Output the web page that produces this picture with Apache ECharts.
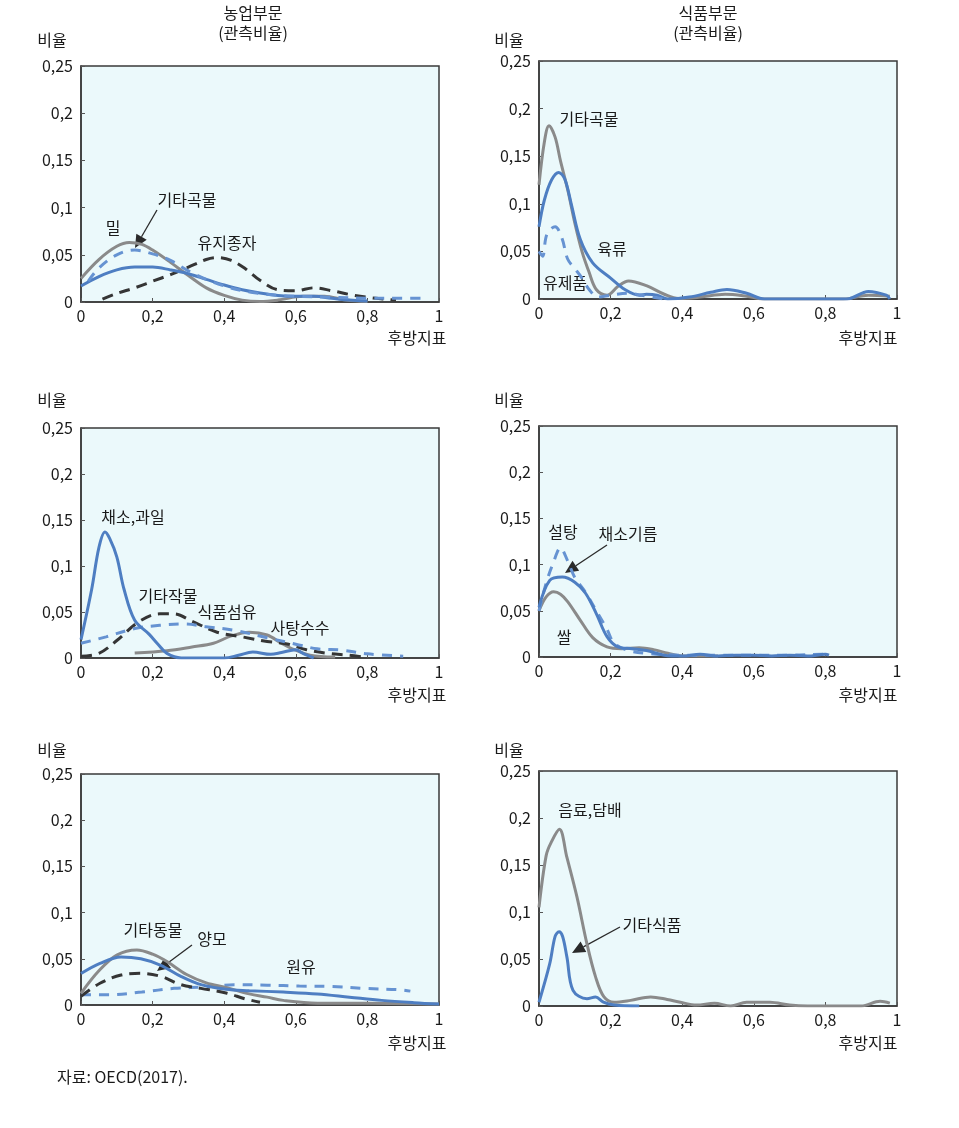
<!DOCTYPE html>
<html><head><meta charset="utf-8">
<script src="https://cdn.jsdelivr.net/npm/echarts@6/dist/echarts.min.js"></script>
<style>html,body{margin:0;padding:0;background:#fff}#c{width:959px;height:1128px}</style>
</head><body><div id="c"></div>
<script>
// ---- data (x = 후방지표, y = 비율) ----
const xTicks = [0, 0.2, 0.4, 0.6, 0.8, 1];
const yTicks = [0, 0.05, 0.1, 0.15, 0.2, 0.25];

// Panel 1: 농업부문
const p1Wheat = [[0,0.025],[0.05,0.045],[0.1,0.059],[0.135,0.063],[0.17,0.061],[0.2,0.055],[0.25,0.042],[0.3,0.028],[0.35,0.015],[0.4,0.007],[0.45,0.002],[0.5,0.0005],[0.55,0.002],[0.62,0.006],[0.68,0.006],[0.74,0.002],[0.8,0.0005]];
const p1Blue = [[0,0.017],[0.05,0.027],[0.1,0.034],[0.15,0.037],[0.2,0.037],[0.25,0.034],[0.3,0.03],[0.35,0.024],[0.4,0.018],[0.45,0.013],[0.5,0.0095],[0.55,0.007],[0.6,0.006],[0.65,0.006],[0.7,0.004],[0.75,0.002],[0.8,0.001]];
const p1OtherGrain = [[0.02,0.022],[0.05,0.036],[0.1,0.05],[0.15,0.055],[0.2,0.051],[0.25,0.044],[0.3,0.033],[0.35,0.024],[0.4,0.017],[0.45,0.012],[0.5,0.009],[0.55,0.007],[0.6,0.006],[0.7,0.005],[0.8,0.004],[0.9,0.004],[0.96,0.004]];
const p1Oilseed = [[0.06,0.003],[0.1,0.009],[0.15,0.015],[0.2,0.022],[0.25,0.029],[0.3,0.037],[0.35,0.045],[0.38,0.047],[0.42,0.044],[0.46,0.035],[0.5,0.023],[0.55,0.013],[0.6,0.012],[0.65,0.015],[0.7,0.012],[0.75,0.008],[0.8,0.005],[0.85,0.003],[0.88,0.002]];

// Panel 2: 식품부문
const p2OtherGrain = [[0,0.12],[0.015,0.165],[0.028,0.182],[0.045,0.17],[0.06,0.145],[0.08,0.115],[0.1,0.08],[0.12,0.05],[0.14,0.028],[0.16,0.01],[0.19,0.004],[0.22,0.013],[0.25,0.019],[0.3,0.014],[0.35,0.005],[0.39,0.0005],[0.45,0.002],[0.52,0.005],[0.58,0.003],[0.63,0],[0.85,0],[0.92,0.004],[0.98,0.003]];
const p2Meat = [[0,0.076],[0.015,0.104],[0.035,0.125],[0.055,0.133],[0.072,0.126],[0.09,0.1],[0.115,0.063],[0.15,0.038],[0.2,0.022],[0.24,0.01],[0.28,0.004],[0.3,0.005],[0.33,0.004],[0.36,0],[0.42,0.002],[0.48,0.007],[0.525,0.01],[0.58,0.006],[0.63,0],[0.86,0],[0.92,0.008],[0.97,0.004],[0.98,0]];
const p2Dairy = [[0,0.05],[0.01,0.045],[0.022,0.068],[0.045,0.076],[0.064,0.064],[0.08,0.042],[0.1,0.032],[0.12,0.022],[0.14,0.01],[0.165,0.002],[0.2,0.004],[0.25,0.006],[0.3,0.003],[0.35,0]];

// Panel 3
const p3VegFruit = [[0,0.02],[0.03,0.075],[0.05,0.12],[0.067,0.137],[0.08,0.13],[0.1,0.11],[0.12,0.075],[0.15,0.041],[0.19,0.026],[0.215,0.015],[0.24,0.005],[0.28,0],[0.4,0],[0.44,0.003],[0.48,0.0065],[0.53,0.004],[0.56,0.006],[0.6,0.009],[0.62,0.005],[0.65,0]];
const p3Fibre = [[0,0.016],[0.07,0.023],[0.15,0.032],[0.22,0.0355],[0.29,0.037],[0.35,0.034],[0.43,0.03],[0.52,0.022],[0.6,0.015],[0.66,0.01],[0.73,0.0085],[0.8,0.0045],[0.9,0.002]];
const p3OtherCrop = [[0,0.002],[0.05,0.005],[0.1,0.019],[0.16,0.039],[0.22,0.048],[0.26,0.048],[0.31,0.04],[0.38,0.028],[0.45,0.023],[0.52,0.018],[0.58,0.015],[0.63,0.009],[0.69,0.005],[0.75,0.003],[0.79,0.001]];
const p3Sugarcane = [[0.15,0.0055],[0.24,0.008],[0.31,0.012],[0.37,0.016],[0.42,0.024],[0.47,0.028],[0.52,0.025],[0.56,0.016],[0.59,0.01],[0.64,0.003],[0.71,0.001]];

// Panel 4
const p4Rice = [[0,0.05],[0.02,0.065],[0.041,0.0705],[0.06,0.068],[0.08,0.06],[0.115,0.04],[0.15,0.021],[0.19,0.011],[0.23,0.009],[0.28,0.01],[0.32,0.008],[0.36,0.004],[0.4,0.001],[0.5,0.001]];
const p4VegOil = [[0,0.054],[0.03,0.083],[0.065,0.0865],[0.1,0.081],[0.13,0.069],[0.16,0.047],[0.19,0.022],[0.22,0.011],[0.26,0.009],[0.3,0.007],[0.35,0.002],[0.4,0.001],[0.45,0.003],[0.5,0.001],[0.55,0.002],[0.6,0.002],[0.65,0.001],[0.7,0.002],[0.75,0.001],[0.8,0.003],[0.81,0.002]];
const p4Sugar = [[0,0.05],[0.02,0.08],[0.04,0.102],[0.06,0.118],[0.08,0.104],[0.1,0.086],[0.13,0.07],[0.16,0.05],[0.19,0.03],[0.21,0.015],[0.25,0.007],[0.3,0.004],[0.4,0.002],[0.5,0.002],[0.6,0.002],[0.7,0.002],[0.8,0.003],[0.81,0.002]];

// Panel 5
const p5OtherAnimal = [[0,0.0127],[0.05,0.037],[0.1,0.054],[0.156,0.0596],[0.2,0.055],[0.24,0.047],[0.295,0.033],[0.35,0.024],[0.405,0.019],[0.47,0.012],[0.52,0.0085],[0.565,0.005],[0.66,0.002],[0.8,0.002],[1,0.001]];
const p5Blue = [[0,0.034],[0.053,0.045],[0.112,0.052],[0.167,0.05],[0.223,0.043],[0.279,0.031],[0.335,0.022],[0.405,0.017],[0.47,0.0155],[0.565,0.014],[0.66,0.012],[0.75,0.0085],[0.84,0.005],[0.93,0.0025],[1,0.001]];
const p5Wool = [[0,0.0094],[0.053,0.0235],[0.112,0.0325],[0.167,0.0343],[0.223,0.031],[0.279,0.022],[0.335,0.018],[0.405,0.013],[0.46,0.0065],[0.5,0.003]];
const p5RawMilk = [[0,0.011],[0.08,0.011],[0.17,0.014],[0.26,0.018],[0.35,0.0195],[0.428,0.022],[0.52,0.0215],[0.61,0.0205],[0.7,0.02],[0.79,0.018],[0.89,0.0165],[0.92,0.015]];

// Panel 6
const p6Beverage = [[0,0.105],[0.02,0.16],[0.034,0.174],[0.057,0.188],[0.078,0.158],[0.106,0.116],[0.134,0.066],[0.158,0.031],[0.181,0.01],[0.21,0.004],[0.256,0.006],[0.312,0.0096],[0.358,0.007],[0.395,0.004],[0.44,0.001],[0.49,0.003],[0.535,0],[0.58,0.004],[0.645,0.004],[0.7,0.001],[0.75,0],[0.9,0],[0.953,0.005],[0.98,0.003]];
const p6OtherFood = [[0,0.004],[0.03,0.045],[0.045,0.074],[0.056,0.079],[0.066,0.074],[0.078,0.052],[0.095,0.0167],[0.134,0.0078],[0.158,0.0096],[0.18,0.004],[0.21,0.001],[0.28,0]];

// ---- styles ----
const FONT = '"Noto Sans CJK KR", "Noto Sans", sans-serif';
const GRAY = '#8a8a8a', BLUE = '#4e7ec2', BLUED = '#6693d2', DARK = '#353535';
const grids = [
  {left:81, top:66, width:358, height:236},
  {left:539, top:61, width:358, height:238},
  {left:81, top:428, width:358, height:230},
  {left:539, top:426, width:358, height:231},
  {left:81, top:774, width:358, height:231},
  {left:539, top:771, width:358, height:235}
];
function fmt(v){ return v === 0 ? '0' : String(+v.toFixed(2)).replace('.', ','); }

const chart = echarts.init(document.getElementById('c'), null, {renderer:'canvas'});
const option = {
  backgroundColor:'#ffffff',
  animation:false,
  grid: grids.map(g => Object.assign({show:true, backgroundColor:'#ebf9fb', borderColor:'#3a3a3a', borderWidth:1.5}, g)),
  xAxis: grids.map((g,i) => ({
    type:'value', gridIndex:i, min:0, max:1, interval:0.2,
    axisLine:{show:true, onZero:false, lineStyle:{color:'#3a3a3a', width:1.5}},
    axisTick:{show:true, inside:true, length:4, lineStyle:{color:'#555'}},
    splitLine:{show:false},
    axisLabel:{color:'#1a1a1a', fontFamily:FONT, fontSize:16, margin:6, formatter:fmt, showMaxLabel:true, showMinLabel:true}
  })),
  yAxis: grids.map((g,i) => ({
    type:'value', gridIndex:i, min:0, max:0.25, interval:0.05,
    axisLine:{show:true, lineStyle:{color:'#3a3a3a', width:1.5}},
    axisTick:{show:true, inside:true, length:4, lineStyle:{color:'#555'}},
    splitLine:{show:false},
    axisLabel:{color:'#1a1a1a', fontFamily:FONT, fontSize:16, margin:8, formatter:fmt}
  })),
  series: []
};
function addLine(idx, data, color, dashed, width){
  option.series.push({
    type:'line', xAxisIndex:idx, yAxisIndex:idx, data:data, showSymbol:false, symbol:'none',
    smooth:0.35, silent:true,
    lineStyle:{color:color, width:width||3, type: dashed ? (color===DARK ? [11,7] : [10,8]) : 'solid'}
  });
}
addLine(0, p1Oilseed, DARK, true);
addLine(0, p1Wheat, GRAY, false);
addLine(0, p1Blue, BLUE, false);
addLine(0, p1OtherGrain, BLUED, true);

addLine(1, p2OtherGrain, GRAY, false);
addLine(1, p2Meat, BLUE, false);
addLine(1, p2Dairy, BLUED, true);

addLine(2, p3Sugarcane, GRAY, false);
addLine(2, p3OtherCrop, DARK, true);
addLine(2, p3Fibre, BLUED, true);
addLine(2, p3VegFruit, BLUE, false);

addLine(3, p4Rice, GRAY, false);
addLine(3, p4Sugar, BLUED, true);
addLine(3, p4VegOil, BLUE, false);

addLine(4, p5RawMilk, BLUED, true);
addLine(4, p5Wool, DARK, true);
addLine(4, p5OtherAnimal, GRAY, false);
addLine(4, p5Blue, BLUE, false);

addLine(5, p6Beverage, GRAY, false);
addLine(5, p6OtherFood, BLUE, false);

// ---- text & arrows ----
const g = [];
function txt(x, y, s, align){
  g.push({type:'text', x:x, y:y, silent:true, style:{text:s, fill:'#1a1a1a', font:'16px ' + FONT, textAlign:align||'center', textVerticalAlign:'middle'}});
}
function arrow(x1, y1, x2, y2){
  const dx = x2 - x1, dy = y2 - y1, L = Math.hypot(dx, dy), ux = dx/L, uy = dy/L;
  const hl = 13, hw = 6;
  const bx = x2 - ux*hl, by = y2 - uy*hl;
  g.push({type:'line', silent:true, shape:{x1:x1, y1:y1, x2:bx, y2:by}, style:{stroke:'#2a2a2a', lineWidth:1.3}});
  g.push({type:'polygon', silent:true, shape:{points:[[x2,y2],[bx - uy*hw, by + ux*hw],[bx, by],[bx + uy*hw, by - ux*hw]]}, style:{fill:'#2a2a2a'}});
}
// panel headers
txt(253, 13, '농업부문'); txt(253, 33, '(관측비율)');
txt(708, 13, '식품부문'); txt(708, 33, '(관측비율)');
// axis names
[[52,40],[509,40],[52,400],[509,400],[52,750],[509,750]].forEach(p => txt(p[0], p[1], '비율'));
[[417,338],[868,338],[417,695],[868,695],[417,1043],[868,1043]].forEach(p => txt(p[0], p[1], '후방지표'));
// panel 1
txt(113, 228, '밀'); txt(187, 200, '기타곡물'); txt(227, 243, '유지종자');
arrow(157, 210, 135, 248);
// panel 2
txt(589, 119, '기타곡물'); txt(612, 249, '육류'); txt(565, 283, '유제품');
// panel 3
txt(133, 517, '채소,과일'); txt(168, 596, '기타작물'); txt(227, 612, '식품섬유'); txt(300, 628, '사탕수수');
// panel 4
txt(563, 532, '설탕'); txt(628, 534, '채소기름'); txt(564, 637, '쌀');
arrow(607, 545, 565, 573);
// panel 5
txt(153, 930, '기타동물'); txt(212, 939, '양모'); txt(301, 967, '원유');
arrow(192, 945, 157, 971);
// panel 6
txt(590, 810, '음료,담배'); txt(652, 925, '기타식품');
arrow(620, 927, 572, 953);
// source
txt(57, 1077, '자료: OECD(2017).', 'left');
option.graphic = g;
chart.setOption(option);
</script>
</body></html>
